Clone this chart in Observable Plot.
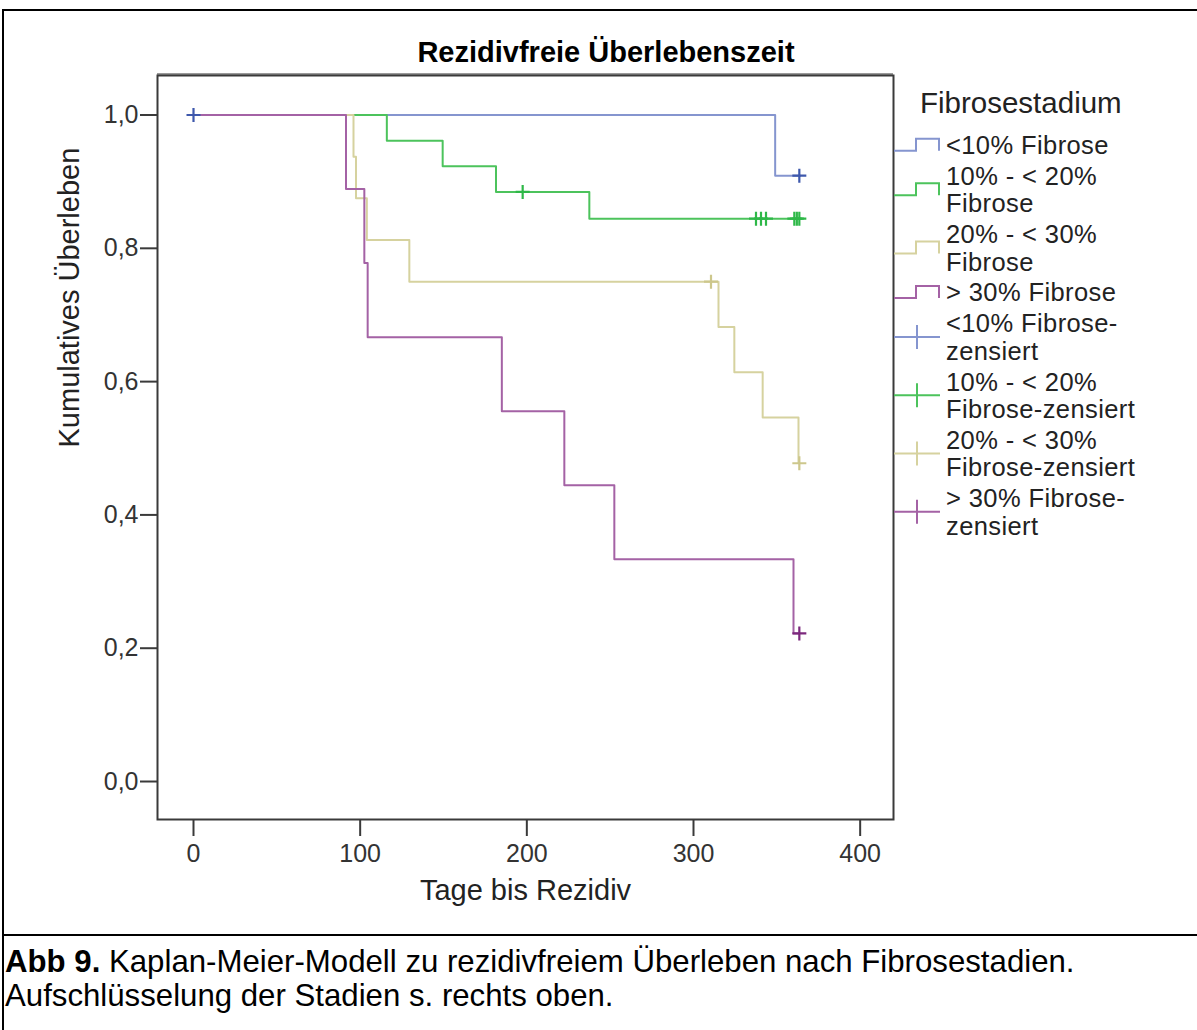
<!DOCTYPE html>
<html>
<head>
<meta charset="utf-8">
<script src="https://cdn.jsdelivr.net/npm/d3@7"></script>
<script src="https://cdn.jsdelivr.net/npm/@observablehq/plot@0.6"></script>
<style>
  html, body { margin: 0; padding: 0; background: #fff; }
  #wrap { position: relative; width: 1197px; height: 1030px; overflow: hidden; font-family: "Liberation Sans", Arial, sans-serif; }
  #chart { position: absolute; left: 0; top: 0; }
  #overlay { position: absolute; left: 0; top: 0; pointer-events: none; }
  .bl { position: absolute; background: #000; }
</style>
</head>
<body>
<div id="wrap">
  <div id="chart"></div>
  <svg id="overlay" width="1197" height="1030"></svg>
  <div class="bl" style="left:2px; top:9px; width:2px; height:1021px;"></div>
  <div class="bl" style="left:2px; top:9px; width:1195px; height:2px;"></div>
  <div class="bl" style="left:2px; top:934px; width:1195px; height:2px;"></div>
</div>
<script>
// ---------- data ----------
const groupNames = ["<10% Fibrose", "10% - < 20% Fibrose", "20% - < 30% Fibrose", "> 30% Fibrose"];
const lineColors = ["#8595cf", "#4cc35c", "#d6d29f", "#a462a5"];
const censorColors = ["#3e58ac", "#2eb848", "#cdc78c", "#7c287d"];

// step curves (time in days, cumulative survival)
const g1Times = [0, 349, 364];
const g1Surv  = [1.0, 0.909, 0.909];
const g2Times = [0, 116, 149.5, 181.5, 237.5, 365];
const g2Surv  = [1.0, 0.9615, 0.923, 0.8846, 0.8445, 0.8445];
const g3Times = [0, 96, 97.5, 104, 129.5, 315, 324.5, 341.5, 363, 363.5];
const g3Surv  = [1.0, 0.9375, 0.875, 0.8125, 0.75, 0.682, 0.614, 0.546, 0.4775, 0.4775];
const g4Times = [0, 91.5, 102.5, 104.5, 185, 222.5, 252.5, 360, 363.5];
const g4Surv  = [1.0, 0.8889, 0.7778, 0.6667, 0.5556, 0.4444, 0.3333, 0.2222, 0.2222];

// censored observations
const g1CensTimes = [0, 363.5];
const g1CensSurv  = [1.0, 0.909];
const g2CensTimes = [197.5, 337.5, 340.5, 343.5, 360.5, 362, 363.5];
const g2CensSurv  = [0.8846, 0.8445, 0.8445, 0.8445, 0.8445, 0.8445, 0.8445];
const g3CensTimes = [310.5, 363.5];
const g3CensSurv  = [0.75, 0.4775];
const g4CensTimes = [363.5];
const g4CensSurv  = [0.2222];

const xTicks = [0, 100, 200, 300, 400];
const yTicks = [0, 0.2, 0.4, 0.6, 0.8, 1.0];

const legendTitle = "Fibrosestadium";
const legendLabels = [
  ["<10% Fibrose"],
  ["10% - < 20%", "Fibrose"],
  ["20% - < 30%", "Fibrose"],
  ["> 30% Fibrose"],
  ["<10% Fibrose-", "zensiert"],
  ["10% - < 20%", "Fibrose-zensiert"],
  ["20% - < 30%", "Fibrose-zensiert"],
  ["> 30% Fibrose-", "zensiert"]
];

const titleText = "Rezidivfreie Überlebenszeit";
const xLabel = "Tage bis Rezidiv";
const yLabel = "Kumulatives Überleben";

// ---------- build tables ----------
const allTimes = [g1Times, g2Times, g3Times, g4Times];
const allSurv = [g1Surv, g2Surv, g3Surv, g4Surv];
const allCT = [g1CensTimes, g2CensTimes, g3CensTimes, g4CensTimes];
const allCS = [g1CensSurv, g2CensSurv, g3CensSurv, g4CensSurv];

const curves = allTimes.map((ts, i) => ts.map((t, j) => ({t, s: allSurv[i][j], g: groupNames[i]})));
const cens = allCT.map((ts, i) => ts.map((t, j) => ({t, s: allCS[i][j], g: groupNames[i]})));

const plusSymbol = {
  draw(context, size) {
    const r = Math.sqrt(size / Math.PI);
    context.moveTo(-r, 0); context.lineTo(r, 0);
    context.moveTo(0, -r); context.lineTo(0, r);
  }
};

const yFmt = d => d.toFixed(1).replace(".", ",");
const xDom = [-21.6, 420];
const yDom = [-0.057, 1.0593];

const marks = [
  Plot.ruleY([yDom[1]], {stroke: "#9a9a9a", strokeWidth: 3, dy: -1}),
  Plot.frame({stroke: "#3a3a3a", strokeWidth: 2}),
  Plot.axisY({ticks: yTicks, tickFormat: yFmt, tickSize: 17, tickPadding: 2, label: null, stroke: "#3a3a3a", strokeWidth: 2, fill: "#333", fontSize: 25}),
  Plot.axisX({ticks: xTicks, tickFormat: d => String(d), tickSize: 17, tickPadding: 8, label: null, stroke: "#3a3a3a", strokeWidth: 2, fill: "#333", fontSize: 25}),
  Plot.text([xLabel], {frameAnchor: "bottom", dy: 80, fontSize: 29, fill: "#222"}),
  Plot.text([yLabel], {frameAnchor: "left", rotate: -90, dx: -88, fontSize: 29, fill: "#222"})
];
curves.forEach((c, i) => {
  marks.push(Plot.line(c, {x: "t", y: "s", curve: "step-after", stroke: lineColors[i], strokeWidth: 2}));
});
cens.forEach((c, i) => {
  marks.push(Plot.dot(c, {x: "t", y: "s", symbol: plusSymbol, r: 7, stroke: censorColors[i], strokeWidth: 2.2, fill: "none"}));
});

const plot = Plot.plot({
  width: 1197,
  height: 935,
  marginLeft: 157,
  marginRight: 304,
  marginTop: 75,
  marginBottom: 116,
  x: {domain: xDom},
  y: {domain: yDom},
  style: {fontFamily: "'Liberation Sans', Arial, sans-serif", fontSize: "25px", color: "#333", background: "transparent", overflow: "visible"},
  marks
});
document.getElementById("chart").appendChild(plot);

// ---------- overlay: title, legend, caption ----------
const ov = d3.select("#overlay");
const ff = "'Liberation Sans', Arial, sans-serif";

ov.append("text").attr("x", 606).attr("y", 62).attr("text-anchor", "middle")
  .attr("font-family", ff).attr("font-size", 29).attr("font-weight", "bold").attr("fill", "#000")
  .text(titleText);

ov.append("text").attr("x", 920).attr("y", 113)
  .attr("font-family", ff).attr("font-size", 29.5).attr("fill", "#222").text(legendTitle);

const lineH = 27.5, itemGap = 30.8;
let base = 154;
legendLabels.forEach((lines, i) => {
  const bls = lines.map((_, k) => base + k * lineH);
  lines.forEach((ln, k) => {
    ov.append("text").attr("x", 946).attr("y", bls[k])
      .attr("font-family", ff).attr("font-size", 25.5).attr("letter-spacing", 0.4).attr("fill", "#222").text(ln);
  });
  const mean = d3.mean(bls);
  const gi = i % 4;
  if (i < 4) {
    const c = mean - 9.3;
    ov.append("path")
      .attr("d", `M894,${c + 6}H916V${c - 6}H939V${c + 6}`)
      .attr("fill", "none").attr("stroke", lineColors[gi]).attr("stroke-width", 2);
  } else {
    const c = mean - 9;
    ov.append("path")
      .attr("d", `M894,${c}H940M917,${c - 12}V${c + 12}`)
      .attr("fill", "none").attr("stroke", lineColors[gi]).attr("stroke-width", 2);
  }
  base = bls[bls.length - 1] + itemGap;
});

const cap1 = ov.append("text").attr("x", 5).attr("y", 972).attr("font-family", ff).attr("font-size", 31.2).attr("fill", "#000");
cap1.append("tspan").attr("font-weight", "bold").text("Abb 9.");
cap1.append("tspan").text(" Kaplan-Meier-Modell zu rezidivfreiem Überleben nach Fibrosestadien.");
ov.append("text").attr("x", 5).attr("y", 1006).attr("font-family", ff).attr("font-size", 31.2).attr("fill", "#000")
  .text("Aufschlüsselung der Stadien s. rechts oben.");
</script>
</body>
</html>
